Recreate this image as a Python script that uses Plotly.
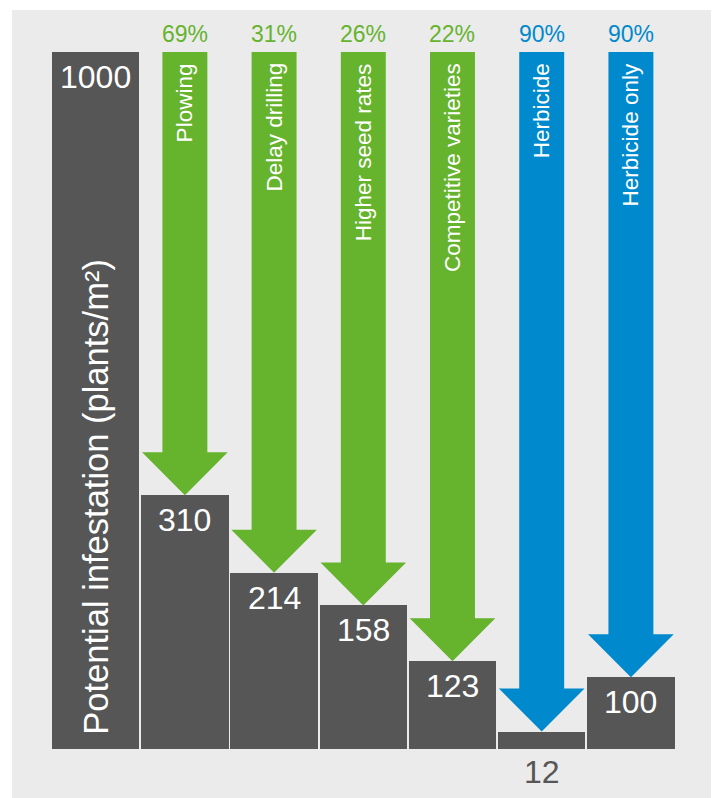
import plotly.graph_objects as go

# ---------------- data ----------------
categories = ["Potential infestation", "Plowing", "Delay drilling", "Higher seed rates",
              "Competitive varieties", "Herbicide", "Herbicide only"]
infestation = [1000, 310, 214, 158, 123, 12, 100]          # value labels (plants/m²)
bar_heights = [1000, 364, 253, 206, 126, 25, 103]          # drawn heights (infographic, not to scale)
reduction_pct = [None, 69, 31, 26, 22, 90, 90]
arrow_kind = [None, "cultural", "cultural", "cultural", "cultural", "chemical", "chemical"]

# ---------------- style ----------------
FONT = "Liberation Sans"
BAR = "#565656"
BG = "#ebebeb"
COLORS = {"cultural": "#66b32e", "chemical": "#0089cc"}
W, H = 711, 790
ML, MR, MT, MB = 4, 3, 2, 0
PX_PER_UNIT = 0.697
Y0 = -70.3
Y1 = Y0 + (H - MT - MB) / PX_PER_UNIT
X0, X1 = -0.938, 6.954

head_h = 43 / PX_PER_UNIT
shaft_half = 0.252
head_half = 0.48
top = max(bar_heights)

x = list(range(len(categories)))

fig = go.Figure()
fig.add_trace(go.Bar(x=x, y=bar_heights, width=0.978, marker=dict(color=BAR, line=dict(width=0)),
                     hoverinfo="skip", showlegend=False))

annotations = []
for i, (cat, h, val, pct, kind) in enumerate(zip(categories, bar_heights, infestation,
                                                   reduction_pct, arrow_kind)):
    # value labels
    if h * PX_PER_UNIT > 40:
        annotations.append(dict(x=i, y=h, text=str(val), showarrow=False, yanchor="middle",
                                yshift=-25, font=dict(family=FONT, size=32, color="white")))
    else:
        annotations.append(dict(x=i, y=0, text=str(val), showarrow=False, yanchor="middle",
                                yshift=-23, font=dict(family=FONT, size=32, color=BAR)))
    if kind is None:
        continue
    col = COLORS[kind]
    xs = [i - shaft_half, i + shaft_half, i + shaft_half, i + head_half, i,
          i - head_half, i - shaft_half, i - shaft_half]
    ys = [top, top, h + head_h, h + head_h, h, h + head_h, h + head_h, top]
    fig.add_trace(go.Scatter(x=xs, y=ys, mode="lines", fill="toself", fillcolor=col,
                             line=dict(width=0, color=col), hoverinfo="skip", showlegend=False))
    annotations.append(dict(x=i, y=top, text=cat, textangle=-90, showarrow=False,
                            yanchor="top", yshift=-9,
                            font=dict(family=FONT, size=22.5, color="white")))
    annotations.append(dict(x=i, y=top, text=f"{pct}%", showarrow=False,
                            yanchor="middle", yshift=18,
                            font=dict(family=FONT, size=23, color=col)))

# axis title inside the first bar
annotations.append(dict(x=0, y=0, text="Potential infestation (plants/m²)", textangle=-90,
                        showarrow=False, yanchor="bottom", yshift=12,
                        font=dict(family=FONT, size=34.5, color="white")))

fig.update_layout(
    width=W, height=H,
    margin=dict(l=ML, r=MR, t=MT, b=MB, pad=0),
    paper_bgcolor="white", plot_bgcolor=BG,
    xaxis=dict(range=[X0, X1], visible=False, fixedrange=True),
    yaxis=dict(range=[Y0, Y1], visible=False, fixedrange=True),
    annotations=annotations,
    shapes=[dict(type="line", xref="paper", yref="paper", x0=1.002, x1=1.002, y0=0, y1=1,
                 line=dict(color="#0089cc", width=1.5))],
    bargap=0,
)

fig.write_html("out.html", config={"displayModeBar": False})
